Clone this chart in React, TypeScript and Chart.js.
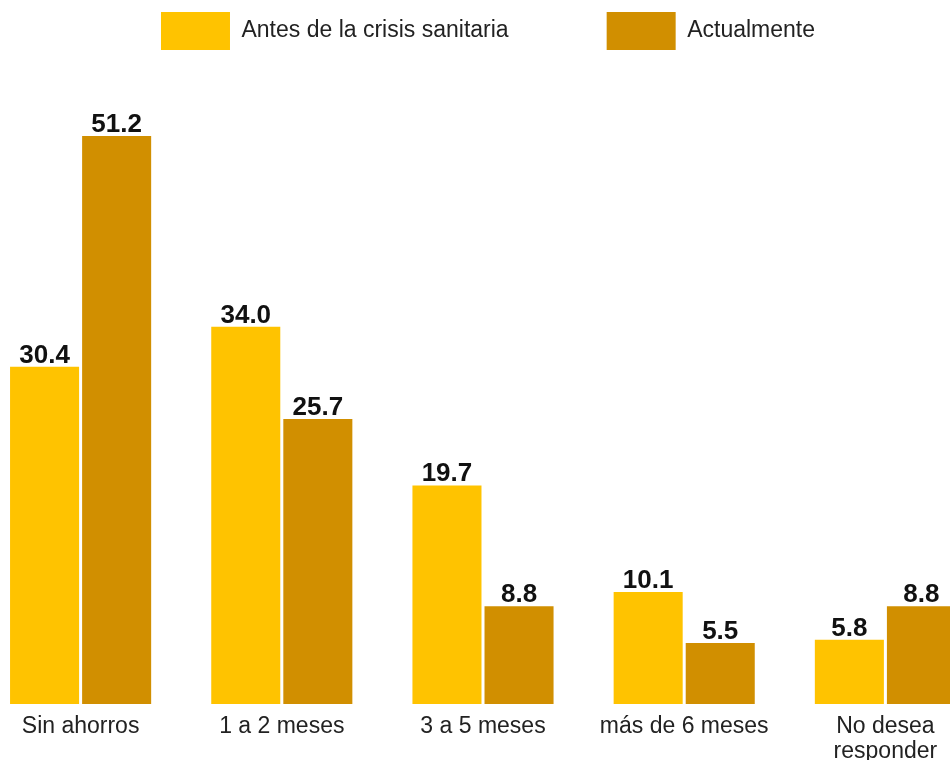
import React, { useEffect, useRef } from "react";
import { Chart, registerables } from "chart.js";

Chart.register(...registerables);

const categories: (string | string[])[] = [
  "Sin ahorros",
  "1 a 2 meses",
  "3 a 5 meses",
  "más de 6 meses",
  ["No desea", "responder"],
];
const seriesNames = ["Antes de la crisis sanitaria", "Actualmente"];
const antes = [30.4, 34.0, 19.7, 10.1, 5.8];
const actualmente = [51.2, 25.7, 8.8, 5.5, 8.8];
const colors = ["#FFC300", "#D18F00"];

const FONT = "'Liberation Sans', Arial, Helvetica, sans-serif";

const valueLabels = {
  id: "valueLabels",
  afterDatasetsDraw(chart: any) {
    const ctx = chart.ctx;
    ctx.save();
    ctx.font = `bold 26px ${FONT}`;
    ctx.fillStyle = "#111";
    ctx.textAlign = "center";
    ctx.textBaseline = "alphabetic";
    chart.data.datasets.forEach((ds: any, di: number) => {
      const meta = chart.getDatasetMeta(di);
      meta.data.forEach((bar: any, i: number) => {
        ctx.fillText(Number(ds.data[i]).toFixed(1), bar.x, bar.y - 4);
      });
    });
    ctx.restore();
  },
};

export default function App() {
  const ref = useRef<HTMLCanvasElement>(null);
  useEffect(() => {
    if (!ref.current) return;
    const chart = new Chart(ref.current, {
      type: "bar",
      data: {
        labels: categories,
        datasets: [
          { label: seriesNames[0], data: antes, backgroundColor: colors[0], borderWidth: 0 },
          { label: seriesNames[1], data: actualmente, backgroundColor: colors[1], borderWidth: 0 },
        ],
      },
      options: {
        responsive: false,
        animation: false,
        devicePixelRatio: 1,
        layout: { padding: { top: -86, left: 0, right: 0, bottom: 0 } },
        datasets: { bar: { categoryPercentage: 0.7164, barPercentage: 0.958 } },
        plugins: {
          tooltip: { enabled: false },
          legend: {
            position: "top",
            labels: {
              boxWidth: 69,
              boxHeight: 38,
              padding: 98,
              color: "#222",
              font: { family: FONT, size: 23 },
            },
          },
        },
        scales: {
          x: {
            grid: { display: false, drawTicks: false },
            border: { display: false },
            ticks: {
              padding: 11,
              color: "#222",
              maxRotation: 0,
              autoSkip: false,
              font: { family: FONT, size: 23, lineHeight: 1.05 },
            },
            afterFit: (s: any) => {
              s.height = 59;
            },
          },
          y: {
            position: "right",
            min: 0,
            max: 58.05,
            grid: { display: false, drawTicks: false },
            border: { display: false },
            ticks: { display: false },
            afterFit: (s: any) => {
              s.width = 10;
            },
          },
        },
      },
      plugins: [valueLabels],
    });
    return () => chart.destroy();
  }, []);
  return (
    <div
      style={{
        position: "fixed",
        left: 0,
        top: 0,
        width: 950,
        height: 760,
        overflow: "hidden",
        background: "#fff",
      }}
    >
      <div style={{ position: "absolute", left: -20, top: 0, width: 1016, height: 763 }}>
        <canvas ref={ref} width={1016} height={763} />
      </div>
    </div>
  );
}
